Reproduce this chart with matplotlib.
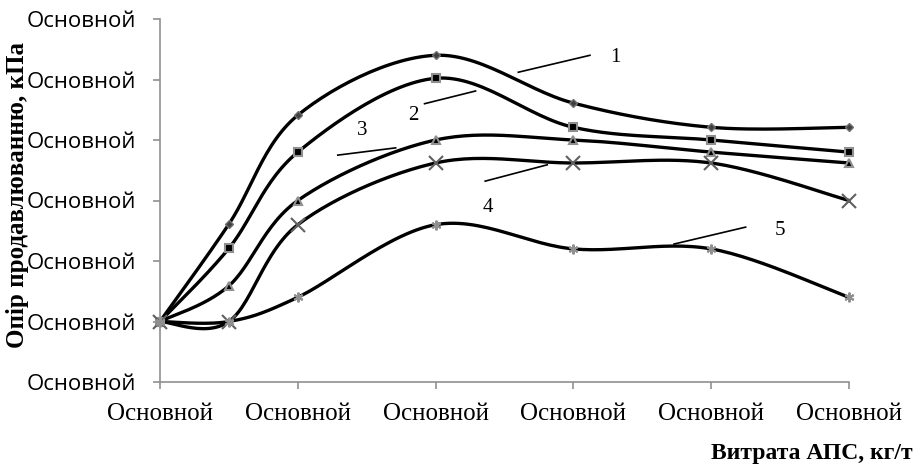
import numpy as np
import matplotlib
matplotlib.use('Agg')
import matplotlib.pyplot as plt

# data (in tick units)
x_vals = [0, 0.5, 1, 2, 3, 4, 5]
s1 = [1.0, 2.61, 4.41, 5.40, 4.61, 4.21, 4.21]
s2 = [1.0, 2.21, 3.80, 5.02, 4.21, 4.00, 3.80]
s3 = [1.0, 1.59, 3.00, 4.00, 4.00, 3.80, 3.62]
s4 = [1.0, 1.00, 2.60, 3.62, 3.62, 3.62, 3.00]
s5 = [1.0, 1.00, 1.40, 2.60, 2.20, 2.20, 1.40]
x_ticks = [0, 1, 2, 3, 4, 5]
y_ticks = [0, 1, 2, 3, 4, 5, 6]
tick_text = 'Основной'

labels = ['1', '2', '3', '4', '5']
label_pos = [(3.27, 5.37), (1.80, 4.41), (1.43, 4.15), (2.34, 2.88), (4.46, 2.51)]
leaders = [((2.60, 5.12), (3.12, 5.40)), ((1.92, 4.60), (2.29, 4.81)),
           ((1.29, 3.75), (1.71, 3.87)), ((2.36, 3.32), (2.81, 3.59)),
           ((3.73, 2.28), (4.25, 2.56))]

fig = plt.figure(figsize=(9.19, 4.68), dpi=100)
ax = fig.add_axes([160/919, (468-382)/468, (849-160)/919, (382-19)/468])
ax.set_xlim(0, 5)
ax.set_ylim(0, 6)


def smooth(xs, ys, n=30):
    # excel-like smoothing done in screen space
    pts = ax.transData.transform(np.column_stack([xs, ys]))
    out = []
    for i in range(len(pts) - 1):
        p0 = pts[i-1] if i > 0 else pts[i]
        p1 = pts[i]
        p2 = pts[i+1]
        p3 = pts[i+2] if i+2 < len(pts) else pts[i+1]
        c1 = p1 + (p2 - p0) / 6
        c2 = p2 - (p3 - p1) / 6
        t = np.linspace(0, 1, n)[:, None]
        seg = (1-t)**3*p1 + 3*(1-t)**2*t*c1 + 3*(1-t)*t**2*c2 + t**3*p2
        out.append(seg if i == 0 else seg[1:])
    out = np.vstack(out)
    d = ax.transData.inverted().transform(out)
    return d[:, 0], d[:, 1]


series = [s1, s2, s3, s4, s5]
mk = [dict(marker='D', ms=4.5, mfc='#404040', mec='#707070', mew=1),
      dict(marker='s', ms=6, mfc='black', mec='#909090', mew=1.5),
      dict(marker='^', ms=6, mfc='black', mec='#909090', mew=1.5),
      dict(marker='x', ms=10, mfc='none', mec='#606060', mew=1.5),
      dict(marker=(6, 2, 0), ms=7, mfc='none', mec='#909090', mew=1.5)]

for s, m in zip(series, mk):
    sx, sy = smooth(x_vals, s)
    ax.plot(sx, sy, color='black', lw=2.4, zorder=2, clip_on=False)
    ax.plot(x_vals, s, ls='none', zorder=3, clip_on=False, **m)

for lab, p, (a, b) in zip(labels, label_pos, leaders):
    ax.plot([a[0], b[0]], [a[1], b[1]], color='black', lw=1.2)
    ax.text(p[0], p[1], lab, fontsize=15, family='Liberation Serif',
            ha='left', va='center')

for sp in ['top', 'right']:
    ax.spines[sp].set_visible(False)
for sp in ['left', 'bottom']:
    ax.spines[sp].set_color('#909090')
    ax.spines[sp].set_linewidth(1.2)

ax.set_xticks(x_ticks)
ax.set_xticklabels([tick_text]*len(x_ticks), family='Liberation Serif', fontsize=18)
ax.set_yticks(y_ticks)
ax.set_yticklabels([tick_text]*len(y_ticks), family='Open Sans', fontsize=16)
ax.tick_params(axis='both', color='#909090', length=5, width=1.2)
ax.tick_params(axis='x', pad=10)
ax.tick_params(axis='y', pad=12)

fig.text(18/919, 1 - 195/468, 'Опір продавлюванню, кПа', rotation=90,
         ha='center', va='center', fontsize=18, fontweight='bold',
         family='Liberation Serif')
fig.text(913/919, 1 - 453/468, 'Витрата АПС, кг/т', ha='right', va='center',
         fontsize=17, fontweight='bold', family='Liberation Serif')

fig.savefig('out.png', dpi=100)
